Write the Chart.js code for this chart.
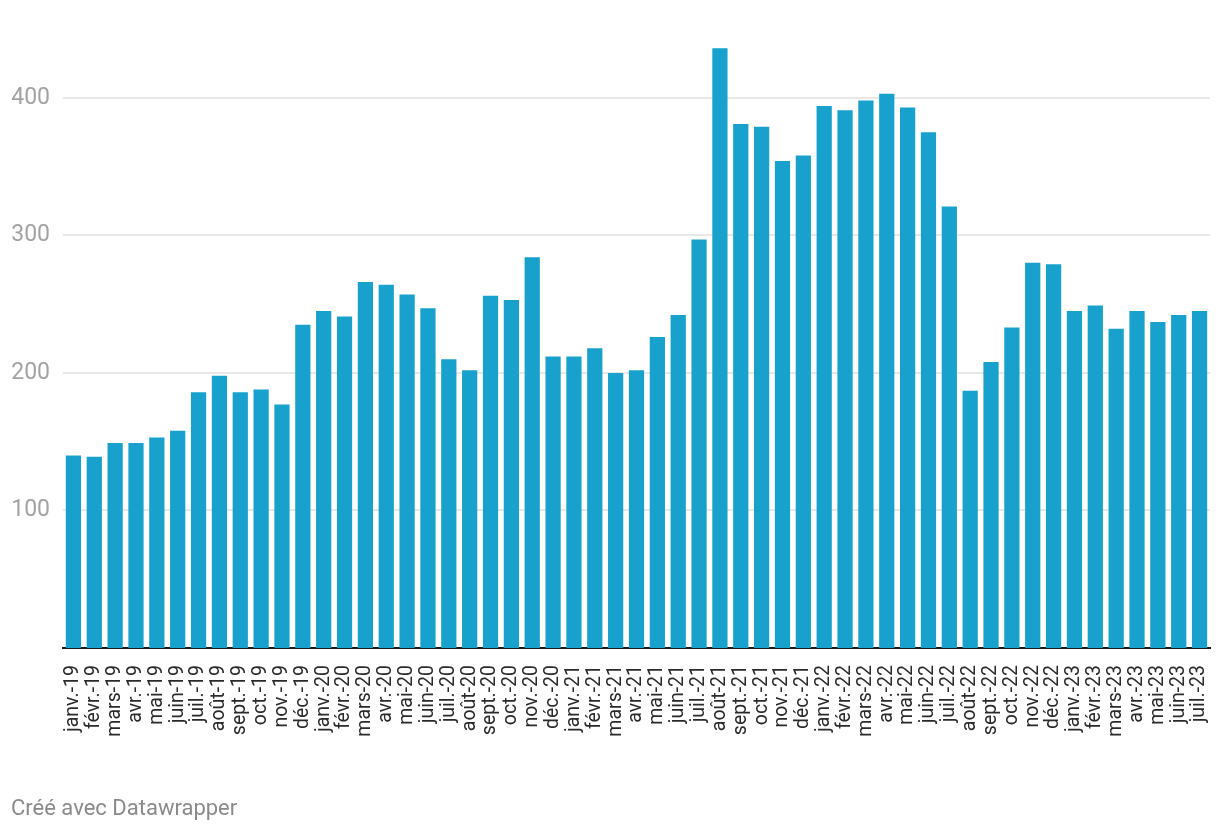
<!DOCTYPE html>
<html>
<head>
<meta charset="utf-8">
<script src="https://cdn.jsdelivr.net/npm/chart.js@4"></script>
<style>
  html, body { margin: 0; padding: 0; background: #fff; }
  #wrap { position: relative; width: 1220px; height: 834px; }
  #credit {
    position: absolute; left: 11px; top: 797px;
    font: 22px/1 Roboto, sans-serif; color: #8a8a8a;
  }
</style>
</head>
<body>
<div id="wrap">
  <canvas id="chart" width="1220" height="834"></canvas>
  <div id="credit">Créé avec Datawrapper</div>
</div>
<script>
// mois (janv. 2019 -> juil. 2023)
var mois = [
  'janv.-19','févr.-19','mars-19','avr.-19','mai-19','juin-19','juil.-19','août-19','sept.-19','oct.-19','nov.-19','déc.-19',
  'janv.-20','févr.-20','mars-20','avr.-20','mai-20','juin-20','juil.-20','août-20','sept.-20','oct.-20','nov.-20','déc.-20',
  'janv.-21','févr.-21','mars-21','avr.-21','mai-21','juin-21','juil.-21','août-21','sept.-21','oct.-21','nov.-21','déc.-21',
  'janv.-22','févr.-22','mars-22','avr.-22','mai-22','juin-22','juil.-22','août-22','sept.-22','oct.-22','nov.-22','déc.-22',
  'janv.-23','févr.-23','mars-23','avr.-23','mai-23','juin-23','juil.-23'
];

var valeurs = [
  140, 139, 149, 149, 153, 158, 186, 198, 186, 188, 177, 235,
  245, 241, 266, 264, 257, 247, 210, 202, 256, 253, 284, 212,
  212, 218, 200, 202, 226, 242, 297, 436, 381, 379, 354, 358,
  394, 391, 398, 403, 393, 375, 321, 187, 208, 233, 280, 279,
  245, 249, 232, 245, 237, 242, 245
];

var yTicks = [100, 200, 300, 400];

var ctx = document.getElementById('chart').getContext('2d');
var chart = new Chart(ctx, {
  type: 'bar',
  data: {
    labels: mois,
    datasets: [{
      data: valeurs,
      backgroundColor: '#18a1cd',
      barPercentage: 0.73,
      categoryPercentage: 1
    }]
  },
  options: {
    responsive: false,
    animation: false,
    layout: { padding: { top: 29, right: 10, bottom: 0, left: 0 } },
    plugins: {
      legend: { display: false },
      tooltip: { enabled: false }
    },
    scales: {
      x: {
        grid: { display: false, drawTicks: false },
        border: { display: true, color: '#1a1a1a', width: 2 },
        ticks: {
          autoSkip: false,
          minRotation: 90,
          maxRotation: 90,
          padding: 17,
          color: '#2a2a2a',
          font: { family: 'Roboto', size: 19.5 }
        },
        afterFit: function (scale) {
          scale.height = 186;
          scale.paddingLeft = 0;
          scale.paddingRight = 0;
        }
      },
      y: {
        min: 0,
        max: 450,
        afterBuildTicks: function (scale) {
          scale.ticks = yTicks.map(function (v) { return { value: v }; });
        },
        grid: { color: '#e8e8e8', lineWidth: 2, drawTicks: false },
        border: { display: false },
        ticks: {
          padding: 13,
          color: '#a3a3a3',
          font: { family: 'Roboto', size: 23 }
        },
        afterFit: function (scale) { scale.width = 63; }
      }
    }
  }
});
</script>
</body>
</html>
